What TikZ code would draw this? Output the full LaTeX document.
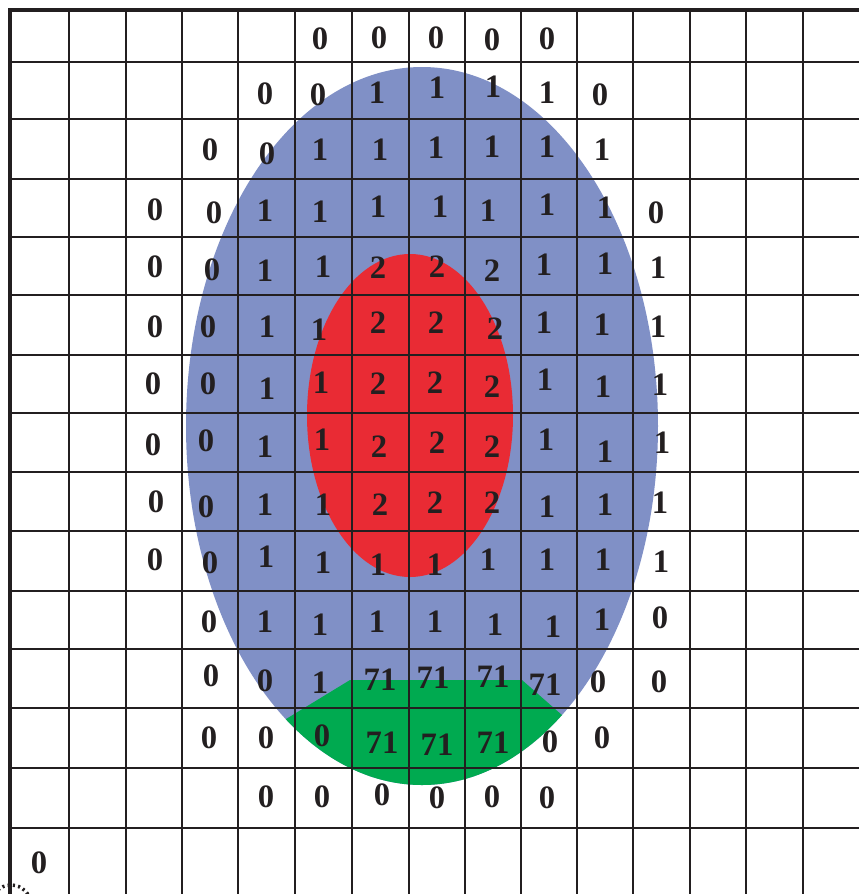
\documentclass[tikz,border=0pt]{standalone}
\usepackage{fontspec}
\setmainfont{Liberation Serif}
\definecolor{blueZone}{RGB}{128,144,198}
\definecolor{redZone}{RGB}{233,43,52}
\definecolor{greenZone}{RGB}{0,170,80}
\definecolor{ink}{RGB}{35,31,32}
\begin{document}
\begin{tikzpicture}[x=0.75pt,y=-0.75pt,
  gridline/.style={ink,line width=1.4pt},
  border/.style={ink,line width=3pt},
  num/.style={font=\fontsize{24.5}{24.5}\selectfont\bfseries,text=ink,inner sep=0pt}]
\useasboundingbox (0,0) rectangle (859,894);
\clip (0,0) rectangle (859,894);
% zones
\fill[blueZone] (422,426) ellipse [x radius=236, y radius=359];
\begin{scope}
  \clip (422,426) ellipse [x radius=236, y radius=359];
  \fill[greenZone] (250,741) -- (350,680) -- (522,680) -- (595,744) -- (595,800) -- (250,800) -- cycle;
\end{scope}
\fill[redZone] (410,415.5) ellipse [x radius=103, y radius=161.5];
% grid
\foreach \x in {69,126,182,238,295,352,409,465,521,577,633,690,746,803}
  \draw[gridline] (\x,10) -- (\x,894);
\foreach \y in {62,119,179,237,295,355,413,472,531,591,649,708,768,828}
  \draw[gridline] (10,\y) -- (859,\y);
\draw[border] (10,894) -- (10,10) -- (859,10);
\draw[ink,line width=2.6pt,dash pattern=on 1.6pt off 2.4pt] (11,905) circle [radius=20];
% row 0
\node[num] (r0a) at (320,39) {0};
\node[num] (r0b) at (379,38) {0};
\node[num] (r0c) at (436,38) {0};
\node[num] (r0d) at (492,40) {0};
\node[num] (r0e) at (547,39) {0};
% row 1
\node[num] (r1a) at (265,94) {0};
\node[num] (r1b) at (318,95) {0};
\node[num] (r1c) at (377,93) {1};
\node[num] (r1d) at (437,88) {1};
\node[num] (r1e) at (493,87) {1};
\node[num] (r1f) at (547,93) {1};
\node[num] (r1g) at (600,95) {0};
% row 2
\node[num] (r2a) at (210,150) {0};
\node[num] (r2b) at (267,154) {0};
\node[num] (r2c) at (320,150) {1};
\node[num] (r2d) at (380,150) {1};
\node[num] (r2e) at (436,148) {1};
\node[num] (r2f) at (492,147) {1};
\node[num] (r2g) at (547,147) {1};
\node[num] (r2h) at (602,150) {1};
% row 3
\node[num] (r3a) at (155,210) {0};
\node[num] (r3b) at (214,213) {0};
\node[num] (r3c) at (265,211) {1};
\node[num] (r3d) at (320,212) {1};
\node[num] (r3e) at (378,207) {1};
\node[num] (r3f) at (440,207) {1};
\node[num] (r3g) at (488,211) {1};
\node[num] (r3h) at (547,205) {1};
\node[num] (r3i) at (605,208) {1};
\node[num] (r3j) at (656,213) {0};
% row 4
\node[num] (r4a) at (155,267) {0};
\node[num] (r4b) at (212,270) {0};
\node[num] (r4c) at (265,271) {1};
\node[num] (r4d) at (323,267) {1};
\node[num] (r4e) at (378,268) {2};
\node[num] (r4f) at (437,267) {2};
\node[num] (r4g) at (492,271) {2};
\node[num] (r4h) at (544,265) {1};
\node[num] (r4i) at (605,264) {1};
\node[num] (r4j) at (658,268) {1};
% row 5
\node[num] (r5a) at (155,327) {0};
\node[num] (r5b) at (208,327) {0};
\node[num] (r5c) at (267,327) {1};
\node[num] (r5d) at (319,330) {1};
\node[num] (r5e) at (378,323) {2};
\node[num] (r5f) at (436,323) {2};
\node[num] (r5g) at (495,329) {2};
\node[num] (r5h) at (544,323) {1};
\node[num] (r5i) at (602,325) {1};
\node[num] (r5j) at (658,327) {1};
% row 6
\node[num] (r6a) at (153,384) {0};
\node[num] (r6b) at (208,384) {0};
\node[num] (r6c) at (267,389) {1};
\node[num] (r6d) at (321,383) {1};
\node[num] (r6e) at (378,384) {2};
\node[num] (r6f) at (435,383) {2};
\node[num] (r6g) at (492,387) {2};
\node[num] (r6h) at (545,380) {1};
\node[num] (r6i) at (603,387) {1};
\node[num] (r6j) at (660,385) {1};
% row 7
\node[num] (r7a) at (153,445) {0};
\node[num] (r7b) at (206,441) {0};
\node[num] (r7c) at (265,447) {1};
\node[num] (r7d) at (322,440) {1};
\node[num] (r7e) at (379,447) {2};
\node[num] (r7f) at (437,443) {2};
\node[num] (r7g) at (492,447) {2};
\node[num] (r7h) at (546,440) {1};
\node[num] (r7i) at (605,452) {1};
\node[num] (r7j) at (662,443) {1};
% row 8
\node[num] (r8a) at (156,502) {0};
\node[num] (r8b) at (206,507) {0};
\node[num] (r8c) at (265,505) {1};
\node[num] (r8d) at (323,505) {1};
\node[num] (r8e) at (380,505) {2};
\node[num] (r8f) at (435,503) {2};
\node[num] (r8g) at (492,503) {2};
\node[num] (r8h) at (547,507) {1};
\node[num] (r8i) at (605,505) {1};
\node[num] (r8j) at (660,503) {1};
% row 9
\node[num] (r9a) at (155,560) {0};
\node[num] (r9b) at (210,563) {0};
\node[num] (r9c) at (266,557) {1};
\node[num] (r9d) at (323,563) {1};
\node[num] (r9e) at (378,565) {1};
\node[num] (r9f) at (435,565) {1};
\node[num] (r9g) at (488,560) {1};
\node[num] (r9h) at (547,560) {1};
\node[num] (r9i) at (603,560) {1};
\node[num] (r9j) at (661,562) {1};
% row 10
\node[num] (r10a) at (209,622) {0};
\node[num] (r10b) at (265,622) {1};
\node[num] (r10c) at (320,625) {1};
\node[num] (r10d) at (377,622) {1};
\node[num] (r10e) at (435,622) {1};
\node[num] (r10f) at (495,625) {1};
\node[num] (r10g) at (553,627) {1};
\node[num] (r10h) at (602,620) {1};
\node[num] (r10i) at (660,618) {0};
% row 11
\node[num] (r11a) at (211,676) {0};
\node[num] (r11b) at (265,681) {0};
\node[num] (r11c) at (320,683) {1};
\node[num] (r11d) at (380,680) {71};
\node[num] (r11e) at (433,678) {71};
\node[num] (r11f) at (493,677) {71};
\node[num] (r11g) at (545,685) {71};
\node[num] (r11h) at (598,682) {0};
\node[num] (r11i) at (659,682) {0};
% row 12
\node[num] (r12a) at (209,738) {0};
\node[num] (r12b) at (266,738) {0};
\node[num] (r12c) at (322,736) {0};
\node[num] (r12d) at (382,743) {71};
\node[num] (r12e) at (437,745) {71};
\node[num] (r12f) at (493,743) {71};
\node[num] (r12g) at (550,742) {0};
\node[num] (r12h) at (602,738) {0};
% row 13
\node[num] (r13a) at (266,797) {0};
\node[num] (r13b) at (322,797) {0};
\node[num] (r13c) at (382,795) {0};
\node[num] (r13d) at (437,798) {0};
\node[num] (r13e) at (492,797) {0};
\node[num] (r13f) at (547,798) {0};
% row 14
\node[num] (r14a) at (39,863) {0};
\end{tikzpicture}
\end{document}
